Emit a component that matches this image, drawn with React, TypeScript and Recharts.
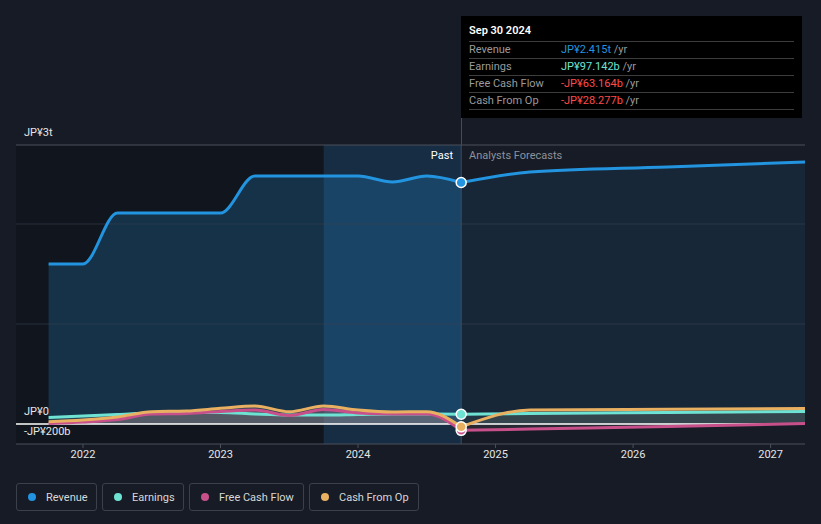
import React from 'react';
import {
  ComposedChart, Area, Line, XAxis, YAxis, ReferenceLine, ReferenceArea, ReferenceDot,
} from 'recharts';

if (typeof document !== 'undefined') {
  document.body.style.margin = '0';
  document.body.style.background = '#161b25';
}

// ---- data (trillions JPY for revenue; billions for others) ----
const pastDates = [2021.75, 2022.0, 2022.25, 2022.5, 2022.75, 2023.0, 2023.25, 2023.5, 2023.75, 2024.0, 2024.25, 2024.5, 2024.75];
const revenuePast = [1.6, 1.6, 2.11, 2.11, 2.11, 2.11, 2.48, 2.48, 2.48, 2.48, 2.42, 2.48, 2.415];
const earningsPast = [65, 80, 95, 110, 115, 115, 100, 90, 90, 95, 100, 100, 97.142];
const fcfPast = [5, 20, 45, 100, 105, 125, 140, 85, 145, 110, 100, 100, -63.164];
const cfoPast = [23, 40, 70, 123, 130, 157, 180, 123, 180, 140, 120, 123, -28.277];

const forecastDates = [2024.75, 2025.25, 2026.25, 2027.25];
const revenueFc = [2.415, 2.52, 2.57, 2.62];
const earningsFc = [97.142, 105, 115, 125];
const fcfFc = [-63.164, -50, -25, 5];
const cfoFc = [-28.277, 140, 148, 155];

const xTicks = [2022, 2023, 2024, 2025, 2026, 2027];
const xDomain = [2021.513, 2027.25];
const yDomain = [-0.2, 2.79];
const gridValues = [1, 2];
const yLabels = [
  { v: 2.79, t: 'JP¥3t' },
  { v: 0, t: 'JP¥0' },
  { v: -0.2, t: '-JP¥200b' },
];
const highlightStart = 2023.75;
const nowDate = 2024.75;

const tooltipRows = [
  { label: 'Revenue', value: 'JP¥2.415t', color: '#2394df' },
  { label: 'Earnings', value: 'JP¥97.142b', color: '#6fe3d3' },
  { label: 'Free Cash Flow', value: '-JP¥63.164b', color: '#ff4b4b' },
  { label: 'Cash From Op', value: '-JP¥28.277b', color: '#ff4b4b' },
];

const COLORS = {
  revenue: '#2394df',
  earnings: '#6fe3d3',
  fcf: '#c8508a',
  cfo: '#e9b062',
};

const legendItems = [
  { label: 'Revenue', color: COLORS.revenue, w: 81 },
  { label: 'Earnings', color: COLORS.earnings, w: 82 },
  { label: 'Free Cash Flow', color: COLORS.fcf, w: 115 },
  { label: 'Cash From Op', color: COLORS.cfo, w: 110 },
];

type Row = { x: number; [k: string]: number | undefined };
const rowMap = new Map<number, Row>();
const put = (x: number, k: string, v: number) => {
  if (!rowMap.has(x)) rowMap.set(x, { x });
  rowMap.get(x)![k] = v;
};
pastDates.forEach((d, i) => {
  put(d, 'revP', revenuePast[i]);
  put(d, 'earnP', earningsPast[i] / 1000);
  put(d, 'fcfP', fcfPast[i] / 1000);
  put(d, 'cfoP', cfoPast[i] / 1000);
});
forecastDates.forEach((d, i) => {
  put(d, 'revF', revenueFc[i]);
  put(d, 'earnF', earningsFc[i] / 1000);
  put(d, 'fcfF', fcfFc[i] / 1000);
  put(d, 'cfoF', cfoFc[i] / 1000);
});
const data = Array.from(rowMap.values()).sort((a, b) => a.x - b.x);

const FONT = 'Roboto, "Noto Sans", sans-serif';

const YLabel = (text: string) => (props: any) => {
  const vb = props.viewBox || {};
  return (
    <text x={(vb.x ?? 16) + 8} y={(vb.y ?? 0) - 9} fill="#e6e6e6" fontSize={11} fontFamily={FONT}>
      {text}
    </text>
  );
};

export default function App() {
  const lastRev = revenuePast[revenuePast.length - 1];
  const lastEarn = earningsPast[earningsPast.length - 1] / 1000;
  const lastFcf = fcfPast[fcfPast.length - 1] / 1000;
  const lastCfo = cfoPast[cfoPast.length - 1] / 1000;
  return (
    <div style={{ width: 821, height: 524, background: '#161b25', position: 'relative', fontFamily: FONT, overflow: 'hidden' }}>
      <ComposedChart width={821} height={524} data={data} margin={{ top: 145, right: 16, bottom: 50, left: 16 }}>
        <XAxis
          dataKey="x"
          type="number"
          domain={xDomain}
          ticks={xTicks}
          allowDataOverflow
          tickFormatter={(v) => String(v)}
          stroke="#4a505a"
          tickSize={4}
          tick={{ fill: '#e6e6e6', fontSize: 11, fontFamily: FONT }}
          height={30}
        />
        <YAxis hide domain={yDomain} allowDataOverflow type="number" />
        <ReferenceArea x1={xDomain[0]} x2={highlightStart} y1={yDomain[0]} y2={yDomain[1]} fill="#0b0e13" fillOpacity={0.4} stroke="none" ifOverflow="visible" />
        <ReferenceArea x1={highlightStart} x2={nowDate} y1={yDomain[0]} y2={yDomain[1]} fill="#1c5a8f" fillOpacity={0.3} stroke="none" ifOverflow="visible" />
        {gridValues.map((g) => (
          <ReferenceLine key={g} y={g} stroke="#3a4150" strokeOpacity={0.6} />
        ))}
        {yLabels.map((l) => (
          <ReferenceLine
            key={l.t}
            y={l.v}
            stroke={l.v === 0 ? '#ffffff' : l.v > 0 ? '#4a505a' : 'none'}
            strokeWidth={l.v === 0 ? 1.5 : 1}
            ifOverflow="visible"
            label={YLabel(l.t)}
          />
        ))}
        <ReferenceLine x={nowDate} stroke="#3a4f66" />

        <Area type="monotone" dataKey="revP" stroke="none" fill={COLORS.revenue} fillOpacity={0.22} isAnimationActive={false} connectNulls />
        <Area type="monotone" dataKey="revF" stroke="none" fill={COLORS.revenue} fillOpacity={0.1} isAnimationActive={false} connectNulls />
        <Area type="monotone" dataKey="earnP" stroke="none" fill="#9a9a9a" fillOpacity={0.15} isAnimationActive={false} connectNulls />
        <Area type="monotone" dataKey="fcfP" stroke="none" fill="#b08090" fillOpacity={0.2} isAnimationActive={false} connectNulls />
        <Area type="monotone" dataKey="cfoP" stroke="none" fill="#a09080" fillOpacity={0.2} isAnimationActive={false} connectNulls />
        <Area type="monotone" dataKey="earnF" stroke="none" fill="#7a9a90" fillOpacity={0.12} isAnimationActive={false} connectNulls />
        <Area type="monotone" dataKey="fcfF" stroke="none" fill="#8a7a80" fillOpacity={0.15} isAnimationActive={false} connectNulls />
        <Area type="monotone" dataKey="cfoF" stroke="none" fill="#9a9a80" fillOpacity={0.15} isAnimationActive={false} connectNulls />

        <Line type="monotone" dataKey="earnP" stroke={COLORS.earnings} strokeWidth={3} dot={false} isAnimationActive={false} connectNulls />
        <Line type="monotone" dataKey="earnF" stroke={COLORS.earnings} strokeWidth={3} dot={false} isAnimationActive={false} connectNulls />
        <Line type="monotone" dataKey="fcfP" stroke={COLORS.fcf} strokeWidth={3} dot={false} isAnimationActive={false} connectNulls />
        <Line type="monotone" dataKey="fcfF" stroke={COLORS.fcf} strokeWidth={3} dot={false} isAnimationActive={false} connectNulls />
        <Line type="monotone" dataKey="cfoP" stroke={COLORS.cfo} strokeWidth={3} dot={false} isAnimationActive={false} connectNulls />
        <Line type="monotone" dataKey="cfoF" stroke={COLORS.cfo} strokeWidth={3} dot={false} isAnimationActive={false} connectNulls />
        <Line type="monotone" dataKey="revP" stroke={COLORS.revenue} strokeWidth={3} dot={false} isAnimationActive={false} connectNulls />
        <Line type="monotone" dataKey="revF" stroke={COLORS.revenue} strokeWidth={3} dot={false} isAnimationActive={false} connectNulls />

        <ReferenceDot x={nowDate} y={lastEarn} r={5} fill={COLORS.earnings} stroke="#ffffff" strokeWidth={1.5} />
        <ReferenceDot x={nowDate} y={lastFcf} r={5} fill={COLORS.fcf} stroke="#ffffff" strokeWidth={1.5} />
        <ReferenceDot x={nowDate} y={lastCfo} r={5} fill={COLORS.cfo} stroke="#ffffff" strokeWidth={1.5} />
        <ReferenceDot x={nowDate} y={lastRev} r={5} fill={COLORS.revenue} stroke="#ffffff" strokeWidth={1.5} />
      </ComposedChart>

      {/* vertical connector above plot */}
      <div style={{ position: 'absolute', left: 461, top: 118, width: 1, height: 27, background: '#3a4f66' }} />

      {/* Past / Forecast labels */}
      <div style={{ position: 'absolute', right: 821 - 453, top: 149, fontSize: 11, color: '#ffffff' }}>Past</div>
      <div style={{ position: 'absolute', left: 469, top: 149, fontSize: 11, color: '#8d929b' }}>Analysts Forecasts</div>

      {/* tooltip box */}
      <div style={{ position: 'absolute', left: 461, top: 16, width: 341, height: 102, background: '#000000', boxSizing: 'border-box', padding: '0 8px' }}>
        <div style={{ height: 25, lineHeight: '29px', fontSize: 11, fontWeight: 600, color: '#ffffff' }}>Sep 30 2024</div>
        {tooltipRows.map((r) => (
          <div key={r.label} style={{ borderTop: '1px solid #3d3d3d', height: 16, lineHeight: '16px', fontSize: 11, display: 'flex' }}>
            <span style={{ width: 92, color: '#9a9a9a' }}>{r.label}</span>
            <span style={{ color: r.color }}>{r.value}</span>
            <span style={{ color: '#9a9a9a' }}>&nbsp;/yr</span>
          </div>
        ))}
        <div style={{ borderTop: '1px solid #3d3d3d' }} />
      </div>

      {/* legend */}
      <div style={{ position: 'absolute', left: 16, top: 483, display: 'flex', gap: 5 }}>
        {legendItems.map((it) => (
          <div key={it.label} style={{ width: it.w, height: 28, boxSizing: 'border-box', border: '1px solid #3b404a', borderRadius: 3, display: 'flex', alignItems: 'center', paddingLeft: 11, fontSize: 11, color: '#d8d8d8' }}>
            <span style={{ width: 8, height: 8, borderRadius: 4, background: it.color, marginRight: 10, display: 'inline-block' }} />
            {it.label}
          </div>
        ))}
      </div>
    </div>
  );
}
